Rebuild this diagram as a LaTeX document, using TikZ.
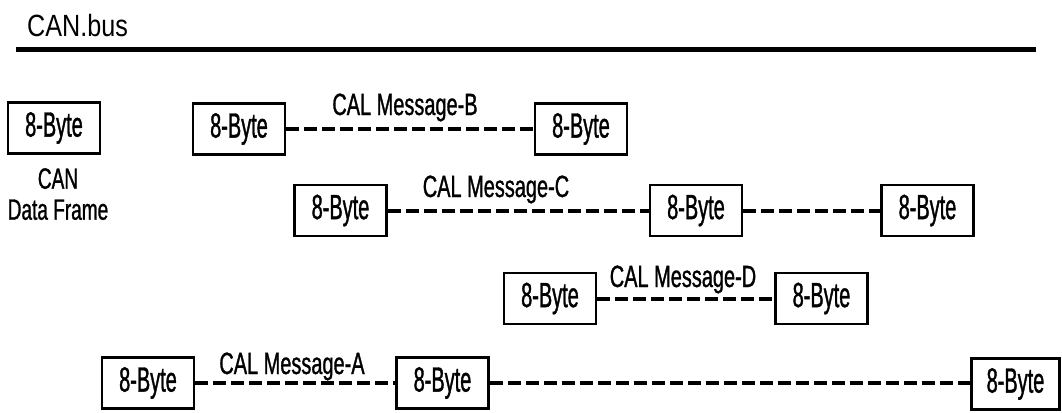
\documentclass[tikz,border=0pt]{standalone}
\usepackage{graphicx}
\usepackage{fontspec}
\newfontfamily\boxfont{Liberation Sans}[FakeStretch=0.57,FakeBold=1]
\newfontfamily\labfont{Liberation Sans}[FakeStretch=0.65,FakeBold=1]
\newfontfamily\titfont{Liberation Sans}
\begin{document}
\begin{tikzpicture}[x=1pt,y=-1pt,
  bytebox/.style={draw, line width=2.5pt, minimum width=92pt, minimum height=51pt, inner sep=0pt,
    font=\boxfont\fontsize{35}{40}\selectfont},
  msgline/.style={line width=4pt, dash pattern=on 13pt off 5pt},
  msglabel/.style={anchor=base, inner sep=0pt, font=\labfont\fontsize{30.7}{34}\selectfont},
  busline/.style={line width=4.5pt}]
\useasboundingbox (0,0) rectangle (1062,412);
% title and bus
\node[anchor=base west, inner sep=0pt, font=\titfont\fontsize{30.7}{34}\selectfont] (title) at (27,37) {\scalebox{0.82}[1]{CAN.bus}};
\coordinate (busL) at (16,49.5);
\coordinate (busR) at (1036,49.5);
\draw[busline] (busL) -- (busR);
% CAN data frame
\node[bytebox] (K0) at (54,128) {8-Byte};
\node[anchor=north, inner sep=0pt, align=center, font=\labfont\fontsize{29.3}{31}\selectfont] (canlab) at (58,168) {CAN\\Data Frame};
% Message B
\node[bytebox] (B1) at (239,129) {8-Byte};
\node[bytebox] (B2) at (581,129) {8-Byte};
\draw[msgline] (B1.east) -- (B2.west);
\node[msglabel] (labB) at (405,115) {CAL Message-B};
% Message C
\node[bytebox] (C1) at (340.5,210.5) {8-Byte};
\node[bytebox] (C2) at (696,210.5) {8-Byte};
\node[bytebox] (C3) at (927.5,210.5) {8-Byte};
\draw[msgline] (C1.east) -- (C2.west);
\draw[msgline] (C2.east) -- (C3.west);
\node[msglabel] (labC) at (496,197) {CAL Message-C};
% Message D
\node[bytebox] (D1) at (550,298.5) {8-Byte};
\node[bytebox] (D2) at (821.5,298.5) {8-Byte};
\draw[msgline] (D1.east) -- (D2.west);
\node[msglabel] (labD) at (683,287) {CAL Message-D};
% Message A
\node[bytebox] (A1) at (148,383) {8-Byte};
\node[bytebox] (A2) at (442.5,383) {8-Byte};
\node[bytebox, minimum width=88pt] (A3) at (1015.5,384) {8-Byte};
\draw[msgline] (A1.east) -- (A2.west);
\draw[msgline] (A2.east) -- (A3.west |- A2.east);
\node[msglabel] (labA) at (292,374) {CAL Message-A};
\end{tikzpicture}
\end{document}
